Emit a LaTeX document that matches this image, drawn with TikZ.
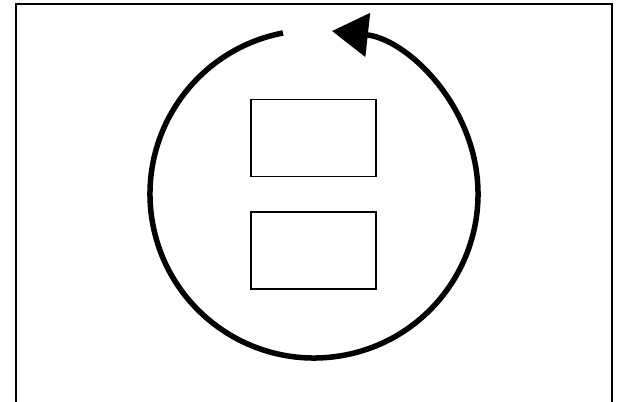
\documentclass[tikz,border=0pt]{standalone}
\usetikzlibrary{arrows.meta, positioning}
\begin{document}
\begin{tikzpicture}[x=1pt, y=1pt, box/.style={draw, line width=1.8pt, minimum width=125pt, minimum height=77pt}]
\useasboundingbox (0,0) rectangle (622,402);
\draw[line width=2pt] (16,0) -- (16,398) -- (612,398) -- (612,0);

\coordinate (ctr) at (314,208);
\node[box] (upper) at (313.5,264) {};
\node[box, below=34pt of upper] (lower) {};

\draw[line width=5.5pt, -{Triangle[length=36pt, width=43pt]}] ([shift={(100.9:164pt)}]ctr) arc[start angle=100.9, end angle=443.7, radius=164pt];
\end{tikzpicture}
\end{document}
